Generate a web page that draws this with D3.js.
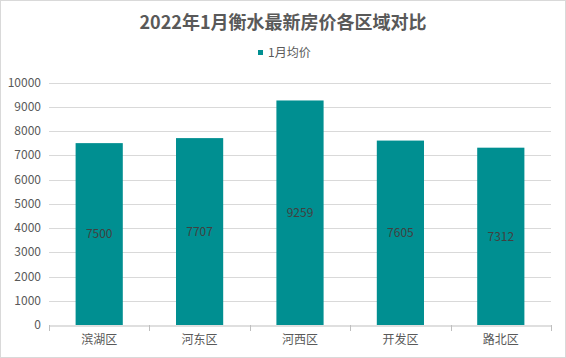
<!DOCTYPE html>
<html><head><meta charset="utf-8">
<script src="https://cdn.jsdelivr.net/npm/d3@7"></script>
<style>
html,body{margin:0;padding:0;background:#fff;}
svg{display:block;font-family:"Microsoft YaHei","Noto Sans CJK SC",sans-serif;}
</style></head>
<body>
<svg id="chart" width="566" height="358"></svg>
<script>
const title = "2022年1月衡水最新房价各区域对比";
const seriesName = "1月均价";
const categories = ["滨湖区", "河东区", "河西区", "开发区", "路北区"];
const values = [7500, 7707, 9259, 7605, 7312];
const yTicks = [0, 1000, 2000, 3000, 4000, 5000, 6000, 7000, 8000, 9000, 10000];

const W = 566, H = 358;
const margin = {left: 49, right: 15, top: 82.5, bottom: 33};
const svg = d3.select("#chart");
const barColor = "#008f91";
const textColor = "#595959";

svg.append("rect").attr("x", 0.5).attr("y", 0.5).attr("width", W - 1).attr("height", H - 1)
  .attr("fill", "#fff").attr("stroke", "#d9d9d9");

const x = d3.scaleBand().domain(categories).range([margin.left, W - margin.right]).paddingInner(0.53).paddingOuter(0.265);
const xb = d3.scaleBand().domain(categories).range([margin.left, W - margin.right]).padding(0);
const y = d3.scaleLinear().domain([0, 10000]).range([H - margin.bottom, margin.top]);

// gridlines
svg.append("g").selectAll("line").data(yTicks.filter(d => d > 0)).join("line")
  .attr("x1", margin.left).attr("x2", W - margin.right)
  .attr("y1", d => Math.round(y(d)) + 0.5).attr("y2", d => Math.round(y(d)) + 0.5)
  .attr("stroke", "#d9d9d9").attr("stroke-width", 1);

// y tick labels
svg.append("g").selectAll("text").data(yTicks).join("text")
  .attr("x", 41).attr("y", d => y(d)).attr("dy", "0.35em")
  .attr("text-anchor", "end").attr("font-size", 12).attr("fill", textColor)
  .text(d => d);

// bars
svg.append("g").selectAll("rect").data(values).join("rect")
  .attr("x", (d, i) => x(categories[i])).attr("width", x.bandwidth())
  .attr("y", d => y(d)).attr("height", d => y(0) - y(d))
  .attr("fill", barColor);

// value labels
svg.append("g").selectAll("text").data(values).join("text")
  .attr("x", (d, i) => x(categories[i]) + x.bandwidth() / 2)
  .attr("y", d => (y(d) + y(0)) / 2).attr("dy", "0.35em")
  .attr("text-anchor", "middle").attr("font-size", 12).attr("fill", "#404040")
  .text(d => d);

// x axis
const xAxis = d3.axisBottom(xb).tickSize(0).tickPadding(10);
const gx = svg.append("g").attr("transform", `translate(0,${Math.round(y(0)) + 0.5})`).call(xAxis);
gx.select(".domain").attr("stroke", "#bfbfbf");
gx.selectAll("text").attr("font-size", 12).attr("fill", textColor).attr("font-family", "\"Noto Sans CJK SC\",sans-serif");
// band boundary ticks
const bounds = [margin.left].concat(categories.map(c => xb(c) + xb.bandwidth()));
svg.append("g").selectAll("line").data(bounds).join("line")
  .attr("x1", d => Math.round(d) + 0.5).attr("x2", d => Math.round(d) + 0.5)
  .attr("y1", Math.round(y(0))).attr("y2", Math.round(y(0)) + 6)
  .attr("stroke", "#bfbfbf");

// title
svg.append("text").attr("x", W / 2).attr("y", 23).attr("dy", "0.35em")
  .attr("text-anchor", "middle").attr("font-size", 18).attr("font-weight", "bold")
  .attr("fill", textColor).text(title);

// legend
const lg = svg.append("g");
lg.append("rect").attr("x", 258).attr("y", 50).attr("width", 5).attr("height", 5).attr("fill", barColor);
lg.append("text").attr("x", 268).attr("y", 53).attr("dy", "0.35em").attr("font-size", 12)
  .attr("fill", textColor).text(seriesName);
</script>
</body></html>
